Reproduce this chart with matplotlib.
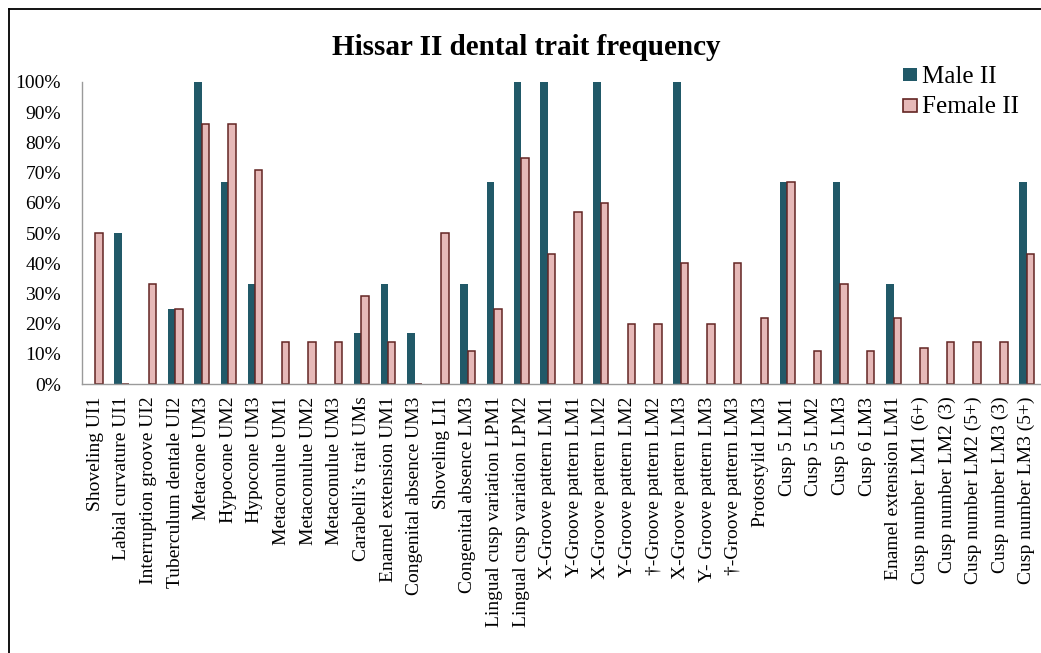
import matplotlib
matplotlib.use("Agg")
import matplotlib.pyplot as plt
from matplotlib.lines import Line2D
from matplotlib.patches import Rectangle
from matplotlib.ticker import FuncFormatter
import numpy as np

categories = [
    "Shoveling UI1", "Labial curvature UI1", "Interruption groove UI2",
    "Tuberculum dentale UI2", "Metacone UM3", "Hypocone UM2", "Hypocone UM3",
    "Metaconulue UM1", "Metaconulue UM2", "Metaconulue UM3",
    "Carabelli\u2019s trait UMs", "Enamel extension UM1", "Congenital absence UM3",
    "Shoveling LI1", "Congenital absence LM3", "Lingual cusp variation LPM1",
    "Lingual cusp variation LPM2", "X-Groove pattern LM1", "Y-Groove pattern LM1",
    "X-Groove pattern LM2", "Y-Groove pattern LM2", "\u2020-Groove pattern LM2",
    "X-Groove pattern LM3", "Y- Groove pattern LM3", "\u2020-Groove pattern LM3",
    "Protostylid LM3", "Cusp 5 LM1", "Cusp 5 LM2", "Cusp 5 LM3", "Cusp 6 LM3",
    "Enamel extension LM1", "Cusp number LM1 (6+)", "Cusp number LM2 (3)",
    "Cusp number LM2 (5+)", "Cusp number LM3 (3)", "Cusp number LM3 (5+)",
]
male_ii = [0, 50, 0, 25, 100, 67, 33, 0, 0, 0, 17, 33, 17, 0, 33, 67, 100, 100, 0,
           100, 0, 0, 100, 0, 0, 0, 67, 0, 67, 0, 33, 0, 0, 0, 0, 67]
female_ii = [50, 0, 33, 25, 86, 86, 71, 14, 14, 14, 29, 14, 0, 50, 11, 25, 75, 43, 57,
             60, 20, 20, 40, 20, 40, 22, 67, 11, 33, 11, 22, 12, 14, 14, 14, 43]
yticks = [0, 10, 20, 30, 40, 50, 60, 70, 80, 90, 100]
series_names = ["Male II", "Female II"]

plt.rcParams['font.family'] = ['Liberation Serif', 'DejaVu Serif']

W, H = 1041, 653
fig = plt.figure(figsize=(W / 100, H / 100), dpi=100)
ax = fig.add_axes([82 / W, 1 - 384 / H, (1040 - 82) / W, (384 - 82) / H])

male_color, female_color, female_edge = '#215968', '#E6B9B8', '#632523'

x = np.arange(len(categories))
w = 0.28
ax.bar(x - w / 2, male_ii, width=w, color=male_color, edgecolor='none', label=series_names[0])
ax.bar(x + w / 2, female_ii, width=w, color=female_color, edgecolor=female_edge,
       linewidth=1.1, label=series_names[1])

ax.set_xlim(-0.5, len(categories) - 0.5)
ax.set_ylim(0, 100)
ax.set_yticks(yticks)
ax.yaxis.set_major_formatter(FuncFormatter(lambda v, p: f"{int(v)}%"))
ax.set_xticks(x)
ax.set_xticklabels(categories, rotation=90, va='top', ha='center')
ax.tick_params(axis='x', length=0, pad=9, labelsize=14)
ax.tick_params(axis='y', length=0, pad=15, labelsize=14)
for s in ['top', 'right']:
    ax.spines[s].set_visible(False)
for s in ['left', 'bottom']:
    ax.spines[s].set_color('#9a9a9a')
    ax.spines[s].set_linewidth(1.0)

fig.text(526 / W, 1 - 55 / H, "Hissar II dental trait frequency", ha='center',
         va='baseline', fontsize=21, fontweight='bold')

# legend (placed in figure pixel coordinates)
def px(xp, yp):
    return xp / W, 1 - yp / H

fig.add_artist(Rectangle(px(903, 81), 14 / W, 13 / H, transform=fig.transFigure,
                         facecolor=male_color, edgecolor='none'))
fig.add_artist(Rectangle(px(903, 112), 14 / W, 13 / H, transform=fig.transFigure,
                         facecolor=female_color, edgecolor=female_edge, linewidth=1.2))
fig.text(*px(922, 83), series_names[0], ha='left', va='baseline', fontsize=18)
fig.text(*px(922, 113), series_names[1], ha='left', va='baseline', fontsize=18)

fig.add_artist(Line2D([9 / W, 1], [1 - 8.5 / H, 1 - 8.5 / H], color='black', lw=1.3,
                      transform=fig.transFigure))
fig.add_artist(Line2D([9 / W, 9 / W], [0, 1 - 8.5 / H], color='black', lw=1.3,
                      transform=fig.transFigure))

fig.savefig("out.png", dpi=100)
